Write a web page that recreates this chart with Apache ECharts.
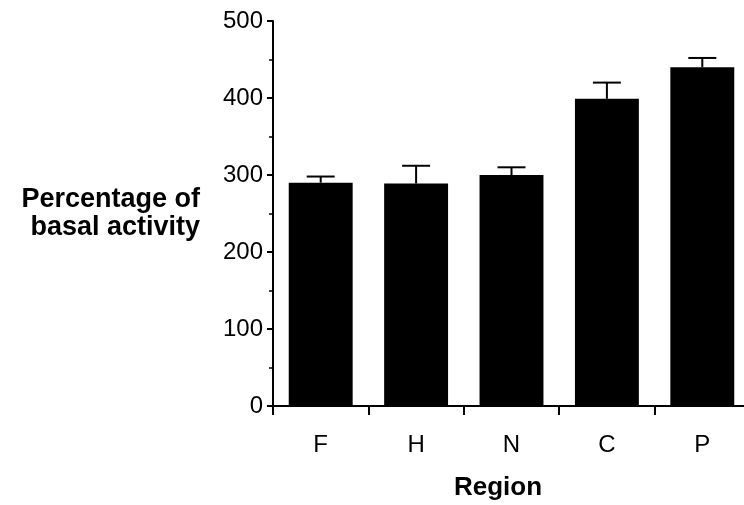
<!DOCTYPE html>
<html>
<head>
<meta charset="utf-8">
<script src="https://cdn.jsdelivr.net/npm/echarts@6/dist/echarts.min.js"></script>
<style>
  html, body { margin: 0; padding: 0; background: #fff; }
  #chart { width: 744px; height: 505px; }
</style>
</head>
<body>
<div id="chart"></div>
<script>
// Brain regions and stimulated activity (% of basal) with SEM
const regions = ['F', 'H', 'N', 'C', 'P'];
const activity = [290, 289, 300, 399, 440];
const sem = [8, 23, 10, 21, 12];
const yTicks = [0, 100, 200, 300, 400, 500];

const FONT = '"Liberation Sans", Arial, Helvetica, sans-serif';

const chart = echarts.init(document.getElementById('chart'), null, { renderer: 'canvas', width: 744, height: 505 });

chart.setOption({
  animation: false,
  backgroundColor: '#ffffff',
  grid: {
    left: 273, width: 477, top: 21, height: 385,
    containLabel: false,
    outerBoundsMode: 'none'
  },
  xAxis: {
    type: 'category',
    data: regions,
    boundaryGap: true,
    name: 'Region',
    nameLocation: 'middle',
    nameGap: 69,
    nameTextStyle: { fontFamily: FONT, fontSize: 26, fontWeight: 'bold', color: '#000', padding: [0, 27, 0, 0] },
    axisLine: { lineStyle: { color: '#000', width: 2 } },
    axisTick: { show: true, length: 9, lineStyle: { color: '#000', width: 2 } },
    axisLabel: { fontFamily: FONT, fontSize: 24, color: '#000', margin: 27 },
    splitLine: { show: false }
  },
  yAxis: {
    type: 'value',
    min: yTicks[0],
    max: yTicks[yTicks.length - 1],
    interval: 100,
    name: 'Percentage of\nbasal activity',
    nameLocation: 'middle',
    nameRotate: 0,
    nameGap: 73,
    nameTextStyle: {
      fontFamily: FONT, fontSize: 27, fontWeight: 'bold', color: '#000',
      align: 'right', verticalAlign: 'middle', lineHeight: 28,
      padding: [0, 0, 58, 0]
    },
    axisLine: { show: true, lineStyle: { color: '#000', width: 2 } },
    axisTick: { show: true, length: 6, lineStyle: { color: '#000', width: 2 } },
    minorTick: { show: true, splitNumber: 2, length: 4, lineStyle: { color: '#000', width: 1.5 } },
    axisLabel: { fontFamily: FONT, fontSize: 24, color: '#000', margin: 10 },
    splitLine: { show: false }
  },
  series: [
    {
      type: 'bar',
      data: activity,
      barWidth: '67%',
      itemStyle: { color: '#000' },
      z: 2
    },
    {
      type: 'custom',
      z: 3,
      data: activity.map((v, i) => [i, v, v + sem[i]]),
      renderItem: function (params, api) {
        const base = api.coord([api.value(0), api.value(1)]);
        const top = api.coord([api.value(0), api.value(2)]);
        const half = 14;
        return {
          type: 'group',
          children: [
            { type: 'line', shape: { x1: base[0], y1: base[1], x2: top[0], y2: top[1] },
              style: { stroke: '#000', lineWidth: 2 } },
            { type: 'line', shape: { x1: top[0] - half, y1: top[1], x2: top[0] + half, y2: top[1] },
              style: { stroke: '#000', lineWidth: 2 } }
          ]
        };
      }
    }
  ]
});
</script>
</body>
</html>
